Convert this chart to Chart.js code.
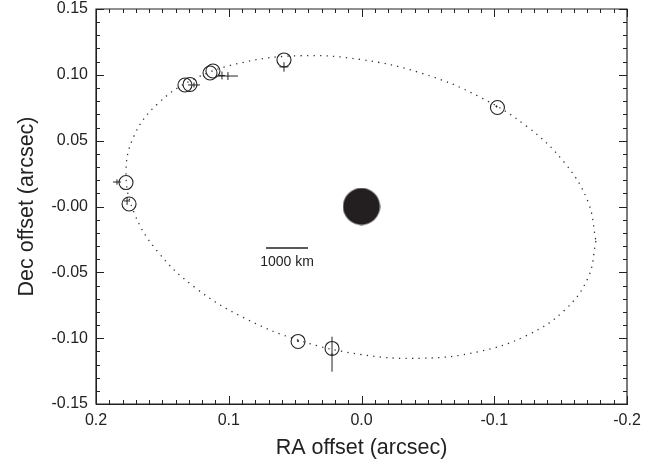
<!DOCTYPE html>
<html>
<head>
<meta charset="utf-8">
<script src="https://cdn.jsdelivr.net/npm/chart.js@4"></script>
<style>
  html, body { margin: 0; padding: 0; background: #fff; }
</style>
</head>
<body>
<canvas id="chart" width="657" height="466"></canvas>
<script>
// predicted positions (open circles)
const modelRA  = [0.0584, -0.1024, 0.1141, 0.1119, 0.1330, 0.1292, 0.1774, 0.1751, 0.0478, 0.0222];
const modelDec = [0.1113, 0.0752, 0.1014, 0.1029, 0.0923, 0.0927, 0.0182, 0.0019, -0.1025, -0.1078];

// measured positions with error bars
const obsRA     = [0.0584, -0.1017, 0.1051, 0.1006, 0.1262, 0.1842, 0.1766, 0.0478, 0.0222];
const obsDec    = [0.1060, 0.0760, 0.0995, 0.0991, 0.0923, 0.0186, 0.0042, -0.1022, -0.1122];
const obsErrRA  = [0.0034, 0.0008, 0.0023, 0.0075, 0.0045, 0.0030, 0.0023, 0.0008, 0.0010];
const obsErrDec = [0.0036, 0.0008, 0.0030, 0.0030, 0.0019, 0.0020, 0.0030, 0.0008, 0.0133];

// orbit (dotted ellipse)
const orbitRA  = [-0.1766, -0.1706, -0.1529, -0.1248, -0.0881, -0.0454, 0.0004, 0.0462, 0.0889, 0.1256, 0.1537, 0.1714,
                   0.1774, 0.1714, 0.1537, 0.1256, 0.0889, 0.0462, 0.0004, -0.0454, -0.0881, -0.1248, -0.1529, -0.1706];
const orbitDec = [-0.0262, -0.0543, -0.0788, -0.0978, -0.1103, -0.1153, -0.1124, -0.1019, -0.0844, -0.0614, -0.0341, -0.0045,
                   0.0254, 0.0535, 0.0779, 0.0971, 0.1095, 0.1145, 0.1116, 0.1012, 0.0837, 0.0606, 0.0333, 0.0037];

// primary body
const primaryRA  = [0];
const primaryDec = [0];

// scale bar
const scaleBarRA  = [0.0719, 0.0403];
const scaleBarDec = -0.0315;
const scaleBarLabel = "1000 km";
const scaleBarLabelDec = -0.0425;

// ticks
const xTickValues = [0.2, 0.1, 0.0, -0.1, -0.2];
const xTickLabels = ["0.2", "0.1", "0.0", "-0.1", "-0.2"];
const yTickValues = [0.15, 0.10, 0.05, 0.0, -0.05, -0.10, -0.15];
const yTickLabels = ["0.15", "0.10", "0.05", "-0.00", "-0.05", "-0.10", "-0.15"];

const ink = "#222";
const font = "'Liberation Sans', Arial, Helvetica, sans-serif";

function toPts(xs, ys) {
  return xs.map((x, i) => ({ x: x, y: ys[i] }));
}
function lookup(vals, labels, v) {
  for (let i = 0; i < vals.length; i++) {
    if (Math.abs(vals[i] - v) < 1e-6) return labels[i];
  }
  return "";
}

const orbitPts = toPts(orbitRA, orbitDec);
orbitPts.push(orbitPts[0]);

// big filled disk used as point style for the primary
const disk = document.createElement("canvas");
disk.width = 38;
disk.height = 38;
(function () {
  const c = disk.getContext("2d");
  c.fillStyle = "#231f20";
  c.beginPath();
  c.arc(19, 19, 18.5, 0, Math.PI * 2);
  c.fill();
})();

// frame, inward ticks, error bars and scale bar
const decorations = {
  id: "decorations",
  afterDraw(chart) {
    const ctx = chart.ctx;
    const xs = chart.scales.x, ys = chart.scales.y;
    const L = xs.getPixelForValue(0.2), R = xs.getPixelForValue(-0.2);
    const T = ys.getPixelForValue(0.15), B = ys.getPixelForValue(-0.15);
    ctx.save();
    ctx.setLineDash([]);
    ctx.globalAlpha = 1;
    ctx.globalCompositeOperation = "source-over";
    ctx.strokeStyle = ink;

    // frame
    ctx.lineWidth = 1.2;
    ctx.beginPath();
    ctx.moveTo(L, T); ctx.lineTo(R, T); ctx.lineTo(R, B); ctx.lineTo(L, B); ctx.closePath();
    ctx.stroke();

    // ticks pointing inward
    ctx.lineWidth = 1;
    ctx.beginPath();
    for (let k = -20; k <= 20; k++) {
      const len = (k % 10 === 0) ? 8 : 4;
      const px = Math.round(xs.getPixelForValue(k / 100)) + 0.5;
      ctx.moveTo(px, B); ctx.lineTo(px, B - len);
      ctx.moveTo(px, T); ctx.lineTo(px, T + len);
    }
    for (let k = -15; k <= 15; k++) {
      const len = (k % 5 === 0) ? 8 : 4;
      const py = Math.round(ys.getPixelForValue(k / 100)) + 0.5;
      ctx.moveTo(L, py); ctx.lineTo(L + len, py);
      ctx.moveTo(R, py); ctx.lineTo(R - len, py);
    }
    ctx.stroke();

    // error bars
    for (let i = 0; i < obsRA.length; i++) {
      const px = xs.getPixelForValue(obsRA[i]);
      const py = ys.getPixelForValue(obsDec[i]);
      ctx.beginPath();
      ctx.moveTo(xs.getPixelForValue(obsRA[i] - obsErrRA[i]), py);
      ctx.lineTo(xs.getPixelForValue(obsRA[i] + obsErrRA[i]), py);
      ctx.moveTo(px, ys.getPixelForValue(obsDec[i] - obsErrDec[i]));
      ctx.lineTo(px, ys.getPixelForValue(obsDec[i] + obsErrDec[i]));
      ctx.stroke();
    }

    // scale bar
    const by = ys.getPixelForValue(scaleBarDec);
    ctx.lineWidth = 1.5;
    ctx.beginPath();
    ctx.moveTo(xs.getPixelForValue(scaleBarRA[0]), by);
    ctx.lineTo(xs.getPixelForValue(scaleBarRA[1]), by);
    ctx.stroke();
    ctx.fillStyle = ink;
    ctx.font = "14px " + font;
    ctx.textAlign = "center";
    ctx.textBaseline = "middle";
    ctx.fillText(scaleBarLabel, xs.getPixelForValue((scaleBarRA[0] + scaleBarRA[1]) / 2), ys.getPixelForValue(scaleBarLabelDec));
    ctx.restore();
  }
};

new Chart(document.getElementById("chart"), {
  type: "scatter",
  data: {
    datasets: [
      {
        label: "orbit",
        data: orbitPts,
        showLine: true,
        tension: 0.4,
        borderColor: "#333",
        borderWidth: 1.3,
        borderDash: [1.3, 5.2],
        pointRadius: 0,
        fill: false
      },
      {
        label: "primary",
        data: toPts(primaryRA, primaryDec),
        pointStyle: disk,
        pointRadius: 1,
        backgroundColor: "#231f20",
        borderColor: "#231f20",
        borderWidth: 0
      },
      {
        label: "predicted",
        data: toPts(modelRA, modelDec),
        pointRadius: 7,
        backgroundColor: "rgba(0,0,0,0)",
        borderColor: ink,
        borderWidth: 1.1
      }
    ]
  },
  options: {
    responsive: false,
    animation: false,
    devicePixelRatio: 1,
    layout: { padding: { left: 0, right: 30, top: 9, bottom: 0 } },
    plugins: { legend: { display: false }, tooltip: { enabled: false } },
    scales: {
      x: {
        type: "linear",
        min: -0.2,
        max: 0.2,
        reverse: true,
        grid: { display: false, drawTicks: true, tickLength: 8 },
        border: { display: true, color: ink, width: 1 },
        ticks: {
          stepSize: 0.1,
          padding: 0,
          color: ink,
          font: { family: font, size: 16, lineHeight: 1.1 },
          maxRotation: 0,
          callback: (v) => lookup(xTickValues, xTickLabels, v)
        },
        title: {
          display: true,
          text: "RA offset (arcsec)",
          color: ink,
          font: { family: font, size: 21.5 },
          padding: { top: 0, bottom: 5 }
        },
        afterFit: (s) => { s.height = 62; }
      },
      y: {
        type: "linear",
        min: -0.15,
        max: 0.15,
        grid: { display: false, drawTicks: true, tickLength: 8 },
        border: { display: true, color: ink, width: 1 },
        ticks: {
          stepSize: 0.05,
          padding: 0,
          color: ink,
          font: { family: font, size: 16, lineHeight: 1.1 },
          callback: (v) => lookup(yTickValues, yTickLabels, v)
        },
        title: {
          display: true,
          text: "Dec offset (arcsec)",
          color: ink,
          font: { family: font, size: 21.5 },
          padding: { top: 14, bottom: 0 }
        },
        afterFit: (s) => { s.width = 96; }
      }
    }
  },
  plugins: [decorations]
});
</script>
</body>
</html>
